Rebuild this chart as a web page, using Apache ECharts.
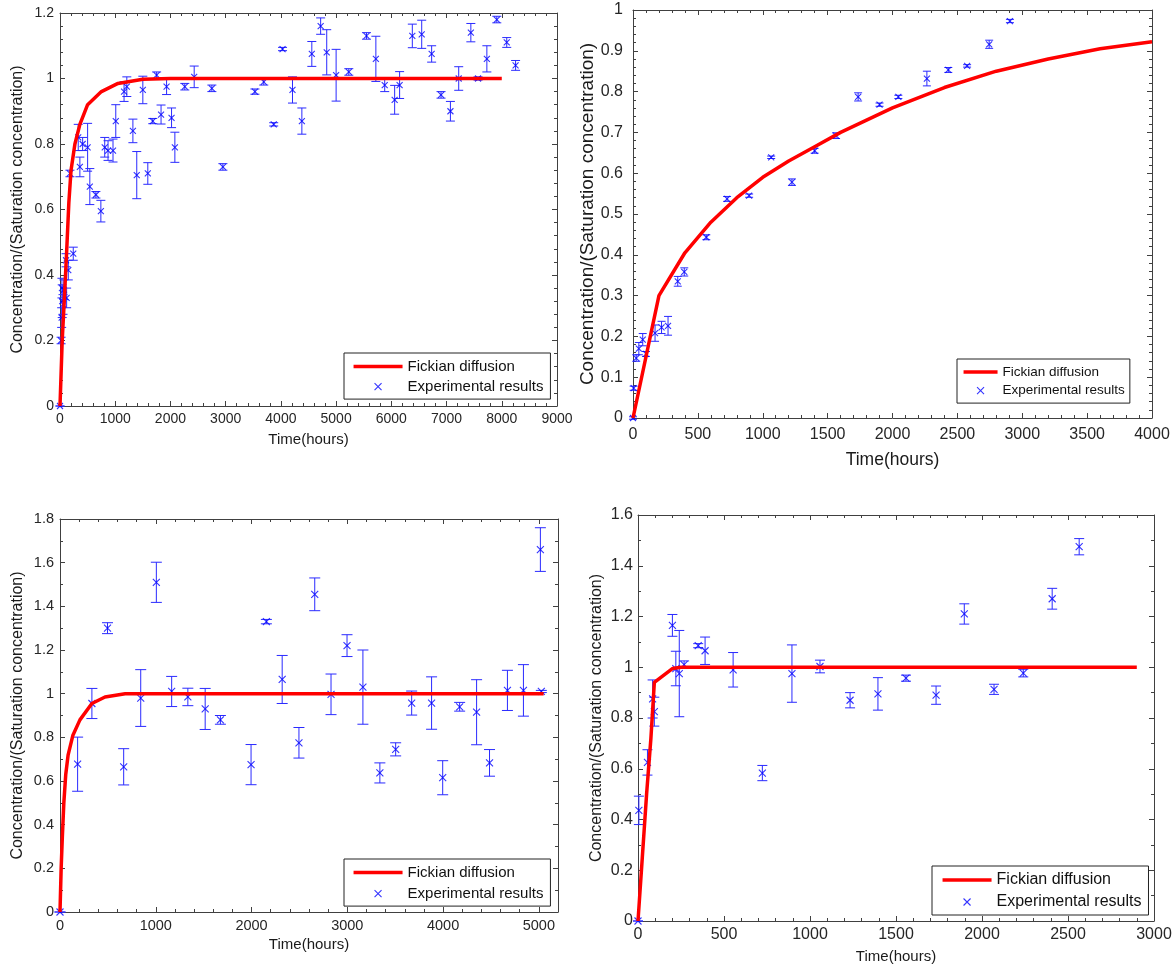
<!DOCTYPE html>
<html>
<head>
<meta charset="utf-8">
<script src="https://cdn.jsdelivr.net/npm/echarts@6/dist/echarts.min.js"></script>
<style>
html,body{margin:0;padding:0;background:#fff;}
#chart{width:1175px;height:967px;}
</style>
</head>
<body>
<div id="chart"></div>
<script>
// ---------- Panel 1 (top-left) ----------
const p1Time  = [0, 20, 30, 35, 40, 55, 70, 110, 120, 150, 180, 240, 330, 360, 410, 500, 540, 650, 740, 810, 870, 960, 1010, 1160, 1210, 1320, 1390, 1500, 1590, 1680, 1750, 1830, 1930, 2020, 2080, 2260, 2430, 2750, 2950, 3530, 3690, 3870, 4030, 4210, 4380, 4560, 4720, 4830, 5000, 5230, 5550, 5720, 5880, 6060, 6150, 6380, 6550, 6730, 6900, 7070, 7220, 7440, 7570, 7730, 7910, 8090, 8250];
const p1Value = [0, 0.20, 0.27, 0.36, 0.32, 0.31, 0.355, 0.445, 0.33, 0.415, 0.71, 0.465, 0.82, 0.73, 0.80, 0.79, 0.67, 0.645, 0.595, 0.79, 0.78, 0.78, 0.87, 0.96, 0.975, 0.84, 0.705, 0.965, 0.71, 0.87, 1.01, 0.89, 0.975, 0.88, 0.79, 0.975, 1.005, 0.97, 0.73, 0.96, 0.99, 0.86, 1.09, 0.965, 0.87, 1.075, 1.16, 1.08, 1.01, 1.02, 1.13, 1.06, 0.98, 0.935, 0.98, 1.13, 1.135, 1.075, 0.95, 0.90, 1.0, 1.14, 1.0, 1.06, 1.18, 1.11, 1.04];
const p1Err   = [0, 0.01, 0.03, 0.03, 0.05, 0.03, 0.03, 0.02, 0.03, 0.03, 0.01, 0.02, 0.04, 0.03, 0.02, 0.073, 0.055, 0.01, 0.033, 0.03, 0.03, 0.035, 0.05, 0.03, 0.03, 0.036, 0.072, 0.042, 0.033, 0.008, 0.01, 0.029, 0.024, 0.03, 0.046, 0.01, 0.033, 0.01, 0.01, 0.008, 0.01, 0.005, 0.005, 0.04, 0.04, 0.038, 0.025, 0.069, 0.079, 0.01, 0.01, 0.069, 0.02, 0.044, 0.041, 0.036, 0.043, 0.025, 0.01, 0.03, 0.036, 0.028, 0.005, 0.04, 0.01, 0.015, 0.015];
const p1FitTime  = [0, 20, 40, 80, 120, 160, 200, 270, 360, 500, 750, 1050, 1500, 2000, 8000];
const p1FitValue = [0, 0.1, 0.2, 0.33, 0.47, 0.62, 0.72, 0.8, 0.86, 0.92, 0.96, 0.985, 0.998, 1.0, 1.0];

// ---------- Panel 2 (top-right) ----------
const p2Time  = [0, 5, 25, 45, 75, 100, 170, 220, 270, 345, 395, 565, 725, 895, 1065, 1225, 1400, 1565, 1735, 1900, 2045, 2265, 2430, 2575, 2745, 2905];
const p2Value = [0, 0.073, 0.147, 0.17, 0.192, 0.157, 0.208, 0.222, 0.226, 0.335, 0.358, 0.443, 0.537, 0.545, 0.639, 0.578, 0.655, 0.692, 0.787, 0.768, 0.787, 0.832, 0.853, 0.863, 0.916, 0.973];
const p2Err   = [0.003, 0.005, 0.008, 0.015, 0.015, 0.006, 0.02, 0.015, 0.023, 0.012, 0.01, 0.006, 0.006, 0.004, 0.003, 0.008, 0.006, 0.007, 0.01, 0.004, 0.004, 0.018, 0.006, 0.003, 0.01, 0.004];
const p2FitTime  = [0, 200, 400, 600, 800, 1000, 1200, 1400, 1600, 1800, 2000, 2400, 2800, 3200, 3600, 4000];
const p2FitValue = [0, 0.30, 0.405, 0.48, 0.54, 0.59, 0.63, 0.665, 0.70, 0.73, 0.76, 0.81, 0.85, 0.88, 0.905, 0.922];

// ---------- Panel 3 (bottom-left) ----------
const p3Time  = [0, 184, 333, 496, 665, 843, 1006, 1166, 1335, 1516, 1675, 1995, 2155, 2320, 2495, 2660, 2830, 2997, 3163, 3340, 3505, 3672, 3880, 3996, 4173, 4350, 4485, 4672, 4839, 5016, 5026];
const p3Value = [0, 0.677, 0.955, 1.30, 0.665, 0.98, 1.51, 1.01, 0.985, 0.93, 0.88, 0.675, 1.33, 1.065, 0.775, 1.455, 0.997, 1.22, 1.03, 0.637, 0.745, 0.957, 0.957, 0.615, 0.94, 0.915, 0.683, 1.015, 1.015, 1.66, 1.01];
const p3Err   = [0, 0.124, 0.069, 0.025, 0.083, 0.13, 0.092, 0.069, 0.04, 0.094, 0.02, 0.092, 0.01, 0.11, 0.07, 0.075, 0.093, 0.05, 0.17, 0.046, 0.03, 0.055, 0.12, 0.078, 0.02, 0.149, 0.061, 0.092, 0.118, 0.1, 0.005];
const p3FitTime  = [0, 12, 25, 40, 60, 85, 135, 208, 333, 470, 680, 5050];
const p3FitValue = [0, 0.2, 0.35, 0.5, 0.63, 0.72, 0.81, 0.88, 0.955, 0.985, 1.0, 1.0];

// ---------- Panel 4 (bottom-right) ----------
const p4Time  = [0, 5, 55, 85, 95, 200, 220, 240, 268, 350, 390, 553, 723, 895, 1058, 1233, 1395, 1558, 1733, 1897, 2070, 2240, 2408, 2565];
const p4Value = [0, 0.436, 0.625, 0.875, 0.825, 1.165, 0.995, 0.975, 1.01, 1.085, 1.065, 0.99, 0.583, 0.975, 1.003, 0.87, 0.895, 0.957, 0.89, 1.21, 0.913, 0.977, 1.27, 1.475];
const p4Err   = [0, 0.056, 0.05, 0.075, 0.057, 0.043, 0.068, 0.17, 0.015, 0.008, 0.054, 0.068, 0.03, 0.113, 0.025, 0.03, 0.064, 0.012, 0.036, 0.04, 0.02, 0.015, 0.041, 0.032];
const p4FitTime  = [0, 25, 50, 75, 95, 200, 250, 2900];
const p4FitValue = [0, 0.25, 0.5, 0.72, 0.94, 0.995, 1.0, 1.0];

// ---------- Text ----------
const yName = 'Concentration/(Saturation concentration)';
const xName = 'Time(hours)';
const fitName = 'Fickian diffusion';
const expName = 'Experimental results';

const FONT = "'Liberation Sans', Arial, sans-serif";
const AXIS_COLOR = '#404040';
const LABEL_COLOR = '#262626';
const BLUE = '#0000ff';
const BAR_BLUE = '#2a2aff';
const RED = '#ff0000';

const panels = [
  {time:p1Time, value:p1Value, err:p1Err, fitT:p1FitTime, fitV:p1FitValue,
   grid:{left:60, top:13, width:497, height:393},
   x:{min:0, max:9000, interval:1000, minor:5}, y:{min:0, max:1.2, interval:0.2, minor:5},
   font:14, xNameFont:15, yNameFont:16, xLabelMargin:6, yLabelMargin:6, xNameGap:26, yNameGap:34,
   cap:4.5, sym:6,
   legend:{left:344, top:353, font:15, itemWidth:49, pad:[6, 7, 5, 9], gap:5}},
  {time:p2Time, value:p2Value, err:p2Err, fitT:p2FitTime, fitV:p2FitValue,
   grid:{left:633, top:10, width:519, height:408},
   x:{min:0, max:4000, interval:500, minor:5}, y:{min:0, max:1, interval:0.1, minor:5},
   font:16, xNameFont:17.5, yNameFont:19, xLabelMargin:9, yLabelMargin:10, xNameGap:33, yNameGap:33,
   cap:4, sym:6,
   legend:{left:957, top:359, font:13.5, itemWidth:34, pad:[6, 5, 5, 6], gap:4}},
  {time:p3Time, value:p3Value, err:p3Err, fitT:p3FitTime, fitV:p3FitValue,
   grid:{left:60, top:519, width:498, height:393},
   x:{min:0, max:5200, interval:1000, minor:5, hideMax:true}, y:{min:0, max:1.8, interval:0.2, minor:2},
   font:14.5, xNameFont:15, yNameFont:16, xLabelMargin:6, yLabelMargin:6, xNameGap:25, yNameGap:34,
   cap:5.5, sym:7,
   legend:{left:344, top:859, font:15, itemWidth:49, pad:[6, 7, 5, 9], gap:6}},
  {time:p4Time, value:p4Value, err:p4Err, fitT:p4FitTime, fitV:p4FitValue,
   grid:{left:638, top:515, width:516, height:406},
   x:{min:0, max:3000, interval:500, minor:5}, y:{min:0, max:1.6, interval:0.2, minor:2},
   font:16, xNameFont:15, yNameFont:16, xLabelMargin:6, yLabelMargin:5, xNameGap:28, yNameGap:33,
   cap:5, sym:7,
   legend:{left:932, top:866, font:16, itemWidth:49, pad:[6, 7, 5, 10], gap:6}}
];

const xSymbol = 'path://M0,0 L10,10 M10,0 L0,10';

function plainNumber(v) { return String(v); }

function axisBase(cfg, gi, position, showLabels, fontSize, margin, extra) {
  return Object.assign({
    type:'value', gridIndex:gi, position:position,
    min:cfg.min, max:cfg.max, interval:cfg.interval,
    axisLine:{show:true, onZero:false, lineStyle:{color:AXIS_COLOR, width:1}},
    axisTick:{show:true, inside:true, length:5, lineStyle:{color:AXIS_COLOR}},
    minorTick:{show:true, splitNumber:cfg.minor, length:3, lineStyle:{color:AXIS_COLOR}},
    splitLine:{show:false},
    axisLabel:{show:showLabels, fontSize:fontSize, fontFamily:FONT, color:LABEL_COLOR, margin:margin,
               formatter:plainNumber, showMaxLabel: cfg.hideMax ? false : null}
  }, extra || {});
}

const grids = [], xAxes = [], yAxes = [], series = [], legends = [];
panels.forEach((p, gi) => {
  grids.push(Object.assign({containLabel:false}, p.grid));
  xAxes.push(axisBase(p.x, gi, 'bottom', true, p.font, p.xLabelMargin, {
    name:xName, nameLocation:'middle', nameGap:p.xNameGap,
    nameTextStyle:{fontSize:p.xNameFont, fontFamily:FONT, color:'#1a1a1a'}
  }));
  xAxes.push(axisBase(p.x, gi, 'top', false, p.font, 0));
  yAxes.push(axisBase(p.y, gi, 'left', true, p.font, p.yLabelMargin, {
    name:yName, nameLocation:'middle', nameGap:p.yNameGap, nameRotate:90,
    nameTextStyle:{fontSize:p.yNameFont, fontFamily:FONT, color:'#1a1a1a'}
  }));
  yAxes.push(axisBase(p.y, gi, 'right', false, p.font, 0));
  const xi = gi * 2, yi = gi * 2;

  const cap = p.cap;
  series.push({
    type:'custom', name:'error bars ' + gi, xAxisIndex:xi, yAxisIndex:yi, z:2,
    data:p.time.map((t, i) => [t, p.value[i], p.err[i]]),
    encode:{x:0, y:1},
    renderItem:function(params, api){
      const x = api.value(0), y = api.value(1), e = api.value(2);
      const hi = api.coord([x, y + e]);
      const lo = api.coord([x, y - e]);
      const st = {stroke:BAR_BLUE, lineWidth:1};
      return {type:'group', children:[
        {type:'line', shape:{x1:hi[0], y1:hi[1], x2:lo[0], y2:lo[1]}, style:st},
        {type:'line', shape:{x1:hi[0]-cap, y1:hi[1], x2:hi[0]+cap, y2:hi[1]}, style:st},
        {type:'line', shape:{x1:lo[0]-cap, y1:lo[1], x2:lo[0]+cap, y2:lo[1]}, style:st}
      ]};
    },
    silent:true, animation:false
  });
  series.push({
    type:'scatter', name:expName, xAxisIndex:xi, yAxisIndex:yi, z:3,
    data:p.time.map((t, i) => [t, p.value[i]]),
    symbol:xSymbol, symbolSize:p.sym,
    itemStyle:{color:'rgba(0,0,0,0)', borderColor:BLUE, borderWidth:1.1},
    animation:false
  });
  series.push({
    type:'line', name:fitName, xAxisIndex:xi, yAxisIndex:yi, z:4,
    data:p.fitT.map((t, i) => [t, p.fitV[i]]),
    symbol:'none', showSymbol:false,
    lineStyle:{color:RED, width:3.5},
    itemStyle:{color:RED},
    animation:false
  });

  const L = p.legend;
  const iw = L.itemWidth;
  const c = iw / 2;
  legends.push({
    show:true, orient:'vertical', left:L.left, top:L.top,
    padding:L.pad, itemGap:L.gap, itemWidth:iw, itemHeight:14,
    borderColor:'#222', borderWidth:1, borderRadius:0, backgroundColor:'#fff',
    selectedMode:false,
    textStyle:{fontSize:L.font, fontFamily:FONT, color:'#111'},
    data:[
      {name:fitName,
       icon:'path://M0,0 M' + iw + ',14 M0,5.2 L' + iw + ',5.2 L' + iw + ',8.8 L0,8.8 Z',
       itemStyle:{color:RED, borderWidth:0}},
      {name:expName,
       icon:'path://M0,0 M' + iw + ',14 M' + (c-3.5) + ',3.5 L' + (c+3.5) + ',10.5 M' + (c+3.5) + ',3.5 L' + (c-3.5) + ',10.5',
       itemStyle:{color:'rgba(0,0,0,0)', borderColor:BLUE, borderWidth:1.1}}
    ]
  });
});

const chart = echarts.init(document.getElementById('chart'), null, {renderer:'canvas'});
chart.setOption({
  backgroundColor:'#ffffff',
  animation:false,
  textStyle:{fontFamily:FONT},
  grid:grids, xAxis:xAxes, yAxis:yAxes, legend:legends, series:series
});
</script>
</body>
</html>
